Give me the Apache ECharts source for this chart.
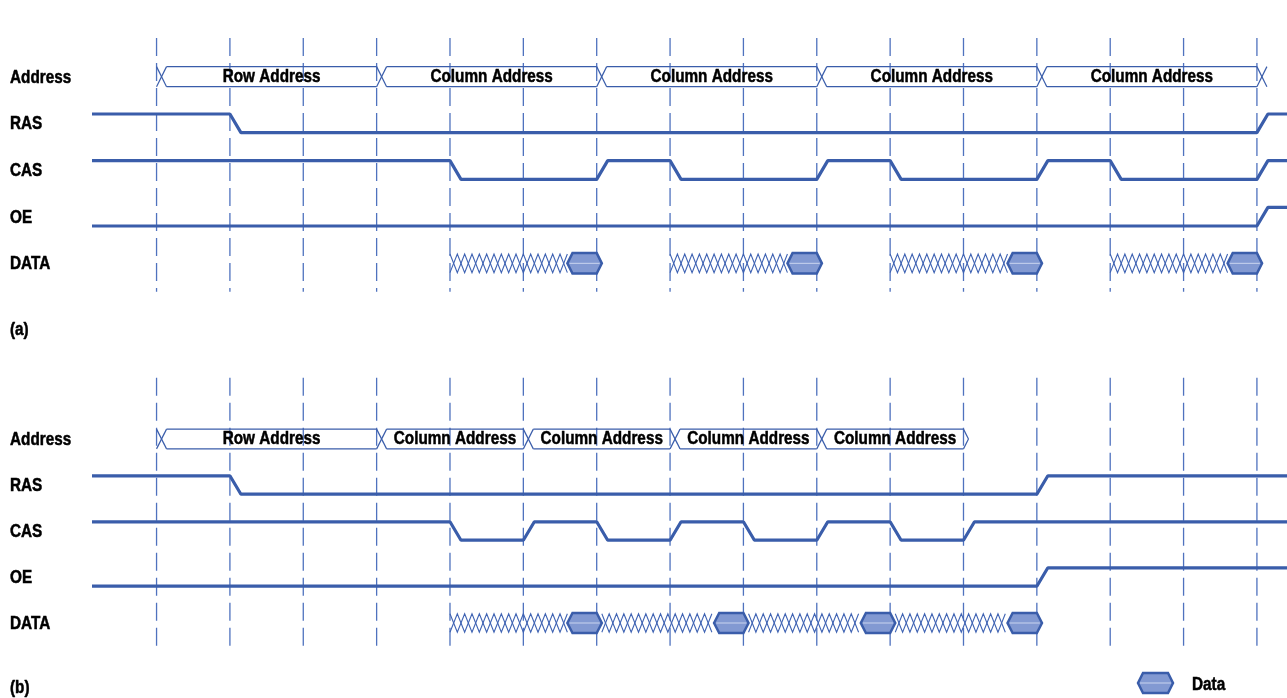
<!DOCTYPE html>
<html><head><meta charset="utf-8">
<script src="https://cdn.jsdelivr.net/npm/echarts@6/dist/echarts.min.js"></script>
<style>html,body{margin:0;padding:0;background:#fff}#c{width:1287px;height:698px}</style>
</head><body><div id="c"></div>
<script>
// ---- data ----
const LANES = ['Address', 'RAS', 'CAS', 'OE', 'DATA'];
const T_START = -0.88, T_END = 15.41;
const CLOCK_TICKS = [0, 1, 2, 3, 4, 5, 6, 7, 8, 9, 10, 11, 12, 13, 14, 15];
const PANEL_TAGS = ['(a)', '(b)'];
const LEGEND_LABEL = 'Data';

// Panel (a)
const A_ADDR_EDGES = [0, 3, 6, 9, 12, 15];
const A_ADDR_LABELS = ['Row Address', 'Column Address', 'Column Address', 'Column Address', 'Column Address'];
const A_RAS_EDGES = [1, 15];                       // starts high
const A_CAS_EDGES = [4, 6, 7, 9, 10, 12, 13, 15];  // starts high
const A_OE_EDGES = [15];                           // starts low
const A_DATA_INVALID = [[4, 5.6], [7, 8.6], [10, 11.6], [13, 14.6]];
const A_DATA_VALID = [[5.6, 6.07], [8.6, 9.07], [11.6, 12.07], [14.6, 15.07]];

// Panel (b)
const B_ADDR_EDGES = [0, 3, 5, 7, 9, 11];
const B_ADDR_LABELS = ['Row Address', 'Column Address', 'Column Address', 'Column Address', 'Column Address'];
const B_RAS_EDGES = [1, 12];
const B_CAS_EDGES = [4, 5, 6, 7, 8, 9, 10, 11];
const B_OE_EDGES = [12];
const B_DATA_INVALID = [[4, 5.6], [6.07, 7.6], [8.07, 9.6], [10.07, 11.6]];
const B_DATA_VALID = [[5.6, 6.07], [7.6, 8.07], [9.6, 10.07], [11.6, 12.07]];

// ---- style constants ----
const LINE = '#3a5daa', DASH = '#4f72be', FILL = '#8299d2';
const FONT = "bold 18px 'Liberation Sans', Arial, sans-serif";
const NARROW = 0.85;
const EDGE = 0.15, XW = 0.136, LEVEL = 0.2, BUS_H = 0.215, HEX_H = 0.22, HEX_IN = 0.07, HATCH_STEP = 0.1, HATCH_H = 0.2;
const DASH_RANGE = [[-0.83, 4.61], [-1.33, 4.59]];

function wave(edges, startHigh, lane) {
  let hi = startHigh;
  const lv = h => lane + (h ? -LEVEL : LEVEL);
  const pts = [[T_START, lv(hi)]];
  edges.forEach(t => { pts.push([t, lv(hi)]); hi = !hi; pts.push([t + EDGE, lv(hi)]); });
  pts.push([T_END, lv(hi)]);
  return pts;
}

function narrowText(x, y, text, align) {
  return { type: 'text', x, y, scaleX: NARROW, scaleY: 1,
    style: { text, fill: '#000', stroke: '#000', lineWidth: 0.5, font: FONT, align: align, verticalAlign: 'middle' } };
}

function lineSeries(p, data) {
  return { type: 'line', xAxisIndex: p, yAxisIndex: p, data, showSymbol: false, symbol: 'none',
    lineStyle: { width: 3.2, color: LINE }, silent: true, z: 4, animation: false };
}

function laneLabelSeries(p) {
  return { type: 'custom', xAxisIndex: p, yAxisIndex: p, silent: true, z: 6, clip: false,
    data: LANES.map((n, i) => [T_START, i]),
    renderItem: (params, api) => {
      const c = api.coord([api.value(0), api.value(1)]);
      return narrowText(c[0] - 82, c[1] + 1, LANES[params.dataIndex], 'left');
    } };
}

function dashSeries(p) {
  const r = DASH_RANGE[p];
  return { type: 'custom', xAxisIndex: p, yAxisIndex: p, silent: true, z: 1, clip: false,
    data: CLOCK_TICKS.map(k => [k]),
    renderItem: (params, api) => {
      const a = api.coord([api.value(0), r[0]]), b = api.coord([api.value(0), r[1]]);
      return { type: 'line', shape: { x1: a[0], y1: a[1], x2: b[0], y2: b[1] },
        style: { stroke: DASH, lineWidth: 1.3, lineDash: [18, 7] } };
    } };
}

function addrSeries(p, edges, labels, endHalf) {
  const lane = 0;
  const data = [];
  for (let i = 0; i < edges.length - 1; i++) data.push([edges[i], edges[i + 1]]);
  return { type: 'custom', xAxisIndex: p, yAxisIndex: p, silent: true, z: 3, clip: false, data,
    renderItem: (params, api) => {
      const t0 = api.value(0), t1 = api.value(1);
      const c = (t, y) => api.coord([t, y]);
      const top = lane - BUS_H, bot = lane + BUS_H;
      const st = { stroke: LINE, lineWidth: 1.2, fill: null };
      const kids = [];
      const seg = (p1, p2) => kids.push({ type: 'line', shape: { x1: p1[0], y1: p1[1], x2: p2[0], y2: p2[1] }, style: st });
      seg(c(t0, top), c(t0 + XW, bot));
      seg(c(t0, bot), c(t0 + XW, top));
      seg(c(t0 + XW, top), c(t1, top));
      seg(c(t0 + XW, bot), c(t1, bot));
      if (params.dataIndex === data.length - 1) {
        if (endHalf) {
          seg(c(t1, top), c(t1 + XW / 2, lane));
          seg(c(t1, bot), c(t1 + XW / 2, lane));
        } else {
          seg(c(t1, top), c(t1 + XW, bot));
          seg(c(t1, bot), c(t1 + XW, top));
        }
      }
      const m = c((t0 + XW + t1) / 2, lane);
      kids.push(narrowText(m[0], m[1], labels[params.dataIndex], 'center'));
      return { type: 'group', children: kids };
    } };
}

function dataSeries(p, invalid, valid) {
  const lane = 4;
  const data = invalid.map(d => [d[0], d[1], 0]).concat(valid.map(d => [d[0], d[1], 1]));
  return { type: 'custom', xAxisIndex: p, yAxisIndex: p, silent: true, z: 5, clip: false, data,
    renderItem: (params, api) => {
      const t0 = api.value(0), t1 = api.value(1), kind = api.value(2);
      const c = (t, y) => api.coord([t, y]);
      if (kind === 0) {
        const la = [], lb = [];
        let i = 0;
        for (let t = t0; t <= t1 + 1e-6; t += HATCH_STEP, i++) {
          la.push(c(t, lane + (i % 2 ? HATCH_H : -HATCH_H)));
          lb.push(c(t, lane + (i % 2 ? -HATCH_H : HATCH_H)));
        }
        const st = { stroke: '#3f63b3', lineWidth: 1.1, fill: null };
        return { type: 'group', children: [
          { type: 'polyline', shape: { points: la }, style: st },
          { type: 'polyline', shape: { points: lb }, style: st }] };
      }
      const pts = [c(t0, lane), c(t0 + HEX_IN, lane - HEX_H), c(t1 - HEX_IN, lane - HEX_H),
                   c(t1, lane), c(t1 - HEX_IN, lane + HEX_H), c(t0 + HEX_IN, lane + HEX_H)];
      const a = c(t0 + 0.03, lane), b = c(t1 - 0.03, lane);
      return { type: 'group', children: [
        { type: 'polygon', shape: { points: pts }, style: { fill: FILL, stroke: LINE, lineWidth: 2.5, lineJoin: 'miter' } },
        { type: 'line', shape: { x1: a[0], y1: a[1], x2: b[0], y2: b[1] }, style: { stroke: '#c9d4ef', lineWidth: 1 } }] };
    } };
}

const yAxisCfg = {
  type: 'value', inverse: true, min: -1, max: 5, interval: 1,
  axisLine: { show: false }, axisTick: { show: false }, splitLine: { show: false }, axisLabel: { show: false }
};
const xAxisCfg = { type: 'value', min: T_START, max: T_END, show: false };

const option = {
  animation: false,
  backgroundColor: '#fff',
  grid: [
    { left: 92, right: 0, top: 30, height: 280 },
    { left: 92, right: 0, top: 393, height: 276 }
  ],
  xAxis: [Object.assign({ gridIndex: 0 }, xAxisCfg), Object.assign({ gridIndex: 1 }, xAxisCfg)],
  yAxis: [Object.assign({ gridIndex: 0 }, yAxisCfg), Object.assign({ gridIndex: 1 }, yAxisCfg)],
  series: [
    dashSeries(0), dashSeries(1),
    laneLabelSeries(0), laneLabelSeries(1),
    addrSeries(0, A_ADDR_EDGES, A_ADDR_LABELS, false),
    addrSeries(1, B_ADDR_EDGES, B_ADDR_LABELS, true),
    lineSeries(0, wave(A_RAS_EDGES, true, 1)),
    lineSeries(0, wave(A_CAS_EDGES, true, 2)),
    lineSeries(0, wave(A_OE_EDGES, false, 3)),
    lineSeries(1, wave(B_RAS_EDGES, true, 1)),
    lineSeries(1, wave(B_CAS_EDGES, true, 2)),
    lineSeries(1, wave(B_OE_EDGES, false, 3)),
    dataSeries(0, A_DATA_INVALID, A_DATA_VALID),
    dataSeries(1, B_DATA_INVALID, B_DATA_VALID)
  ],
  graphic: [
    narrowText(10, 330, PANEL_TAGS[0], 'left'),
    narrowText(10, 688, PANEL_TAGS[1], 'left'),
    { type: 'polygon', shape: { points: [[1138, 683], [1143, 673], [1168, 673], [1173, 683], [1168, 693], [1143, 693]] },
      style: { fill: FILL, stroke: LINE, lineWidth: 2.5 } },
    { type: 'line', shape: { x1: 1140, y1: 683, x2: 1171, y2: 683 }, style: { stroke: '#c9d4ef', lineWidth: 1 } },
    narrowText(1192, 685, LEGEND_LABEL, 'left')
  ]
};
const chart = echarts.init(document.getElementById('c'), null, { renderer: 'canvas' });
chart.setOption(option);
</script>
</body></html>
